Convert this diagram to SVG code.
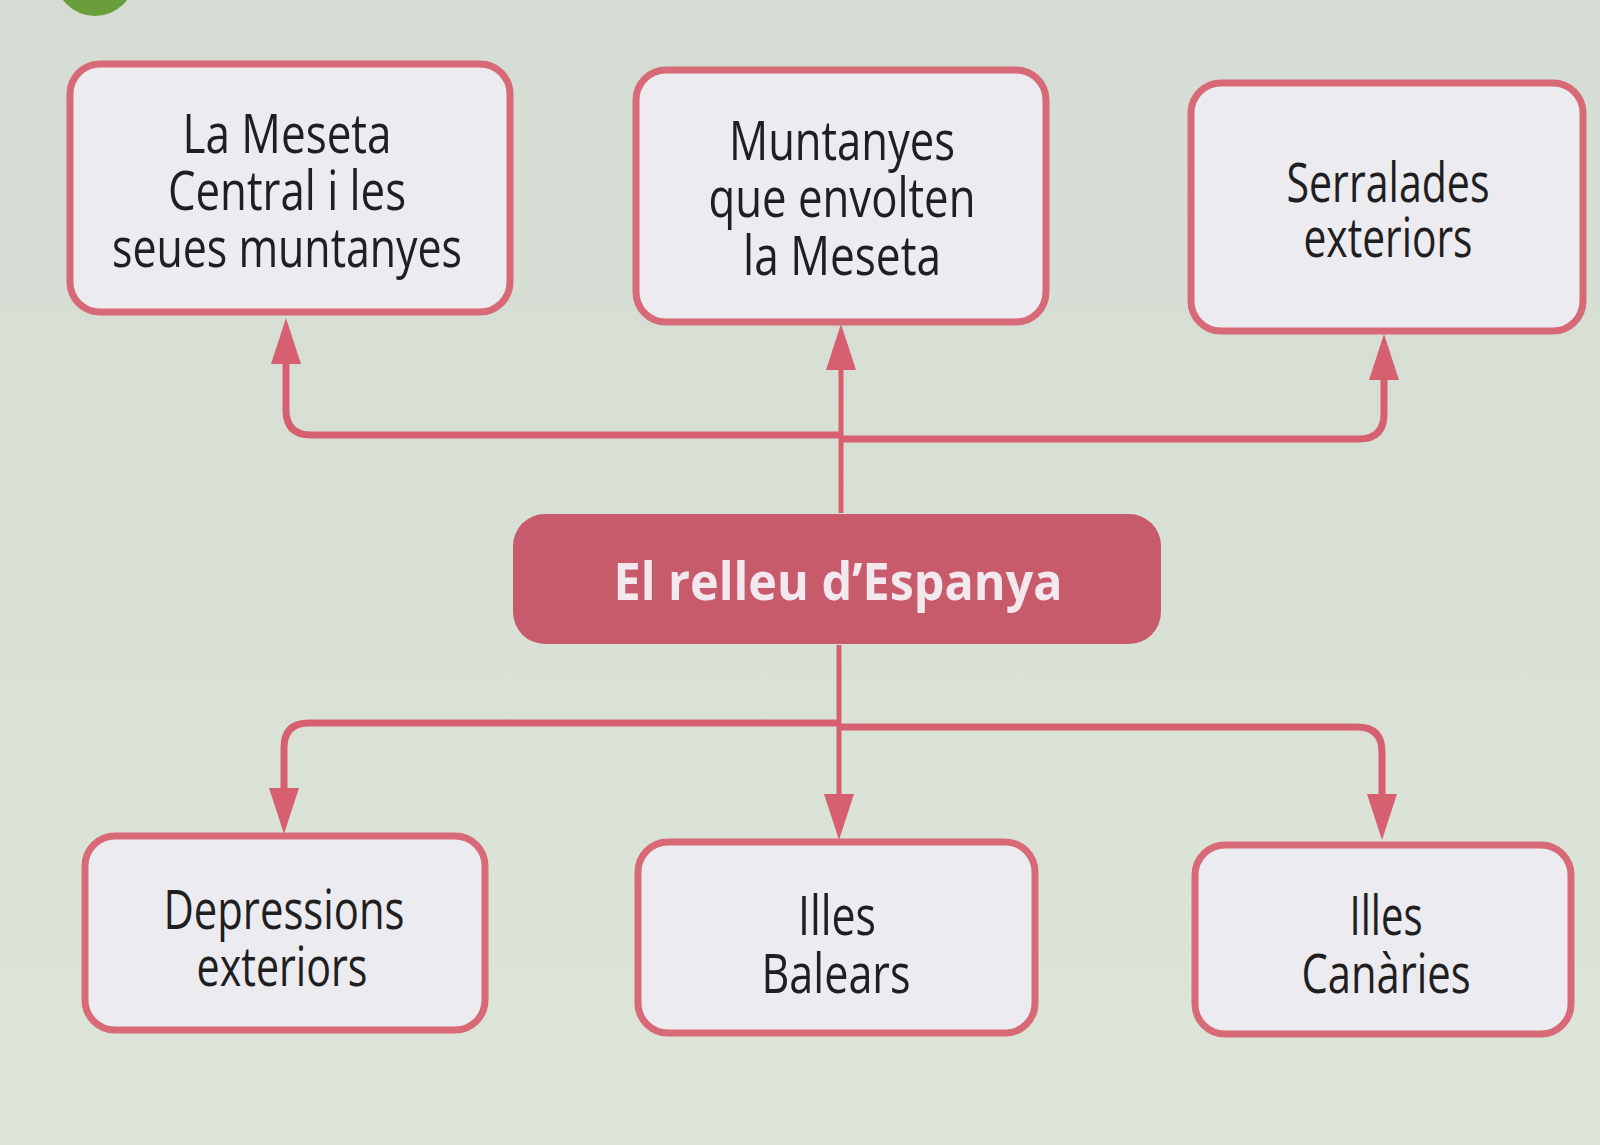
<svg xmlns="http://www.w3.org/2000/svg" width="1600" height="1145" viewBox="0 0 1600 1145">
  <defs>
    <linearGradient id="bg" x1="0" y1="0" x2="0" y2="1">
      <stop offset="0" stop-color="#d4dcd4"/>
      <stop offset="1" stop-color="#dde5d8"/>
    </linearGradient>
    <marker id="arr" markerUnits="userSpaceOnUse" markerWidth="46" markerHeight="32" refX="24" refY="16" orient="auto" viewBox="0 0 46 32">
      <path d="M0,1 L46,16 L0,31 Z" fill="#d6606f"/>
    </marker>
    <style>
      .box { fill: #ecebef; stroke: #d86a78; stroke-width: 7; }
      .main { fill: #c75b6c; }
      .t { font-family: "Open Sans", "Noto Sans", sans-serif; font-size: 54px; fill: #1f1f22; text-anchor: middle; }
      .tm { font-family: "Open Sans", "Noto Sans", sans-serif; font-size: 52px; font-weight: bold; fill: #f3e8ee; text-anchor: middle; }
      .c { fill: none; stroke: #d6606f; stroke-width: 7; stroke-linejoin: round; }
      .cv { fill: none; stroke: #d6606f; stroke-width: 5; }
    </style>
  </defs>
  <rect x="0" y="0" width="1600" height="1145" fill="url(#bg)"/>
  <circle cx="95" cy="-24" r="40" fill="#6a9e3a"/>

  <g id="connectors">
    <path class="cv" d="M841 513 V346" marker-end="url(#arr)"/>
    <path class="c" d="M841 435 H311 Q286 435 286 410 V340" marker-end="url(#arr)"/>
    <path class="c" d="M841 439 H1359 Q1384 439 1384 414 V356" marker-end="url(#arr)"/>
    <path class="cv" d="M839 645 V818" marker-end="url(#arr)"/>
    <path class="c" d="M839 723 H309 Q284 723 284 748 V812" marker-end="url(#arr)"/>
    <path class="c" d="M839 727 H1357 Q1382 727 1382 752 V818" marker-end="url(#arr)"/>
  </g>

  <g id="node-meseta">
    <rect class="box" x="70" y="64" width="440" height="248" rx="30"/>
    <text class="t" x="287" y="153" textLength="209" lengthAdjust="spacingAndGlyphs">La Meseta</text>
    <text class="t" x="287" y="210" textLength="238" lengthAdjust="spacingAndGlyphs">Central i les</text>
    <text class="t" x="287" y="267" textLength="350" lengthAdjust="spacingAndGlyphs">seues muntanyes</text>
  </g>

  <g id="node-muntanyes">
    <rect class="box" x="636" y="70" width="410" height="252" rx="30"/>
    <text class="t" x="842" y="160" textLength="226" lengthAdjust="spacingAndGlyphs">Muntanyes</text>
    <text class="t" x="842" y="217" textLength="267" lengthAdjust="spacingAndGlyphs">que envolten</text>
    <text class="t" x="842" y="275" textLength="198" lengthAdjust="spacingAndGlyphs">la Meseta</text>
  </g>

  <g id="node-serralades">
    <rect class="box" x="1191" y="83" width="392" height="248" rx="30"/>
    <text class="t" x="1388" y="202" textLength="203" lengthAdjust="spacingAndGlyphs">Serralades</text>
    <text class="t" x="1388" y="257" textLength="169" lengthAdjust="spacingAndGlyphs">exteriors</text>
  </g>

  <g id="node-relleu">
    <rect class="main" x="513" y="514" width="648" height="130" rx="32"/>
    <text class="tm" x="838" y="600" textLength="449" lengthAdjust="spacingAndGlyphs">El relleu d’Espanya</text>
  </g>

  <g id="node-depressions">
    <rect class="box" x="85" y="836" width="400" height="194" rx="30"/>
    <text class="t" x="284" y="929" textLength="241" lengthAdjust="spacingAndGlyphs">Depressions</text>
    <text class="t" x="282" y="986" textLength="171" lengthAdjust="spacingAndGlyphs">exteriors</text>
  </g>

  <g id="node-balears">
    <rect class="box" x="638" y="842" width="397" height="191" rx="30"/>
    <text class="t" x="837" y="935" textLength="78" lengthAdjust="spacingAndGlyphs">Illes</text>
    <text class="t" x="836" y="993" textLength="149" lengthAdjust="spacingAndGlyphs">Balears</text>
  </g>

  <g id="node-canaries">
    <rect class="box" x="1195" y="845" width="376" height="189" rx="30"/>
    <text class="t" x="1386" y="935" textLength="73" lengthAdjust="spacingAndGlyphs">Illes</text>
    <text class="t" x="1386" y="993" textLength="169" lengthAdjust="spacingAndGlyphs">Canàries</text>
  </g>
</svg>
